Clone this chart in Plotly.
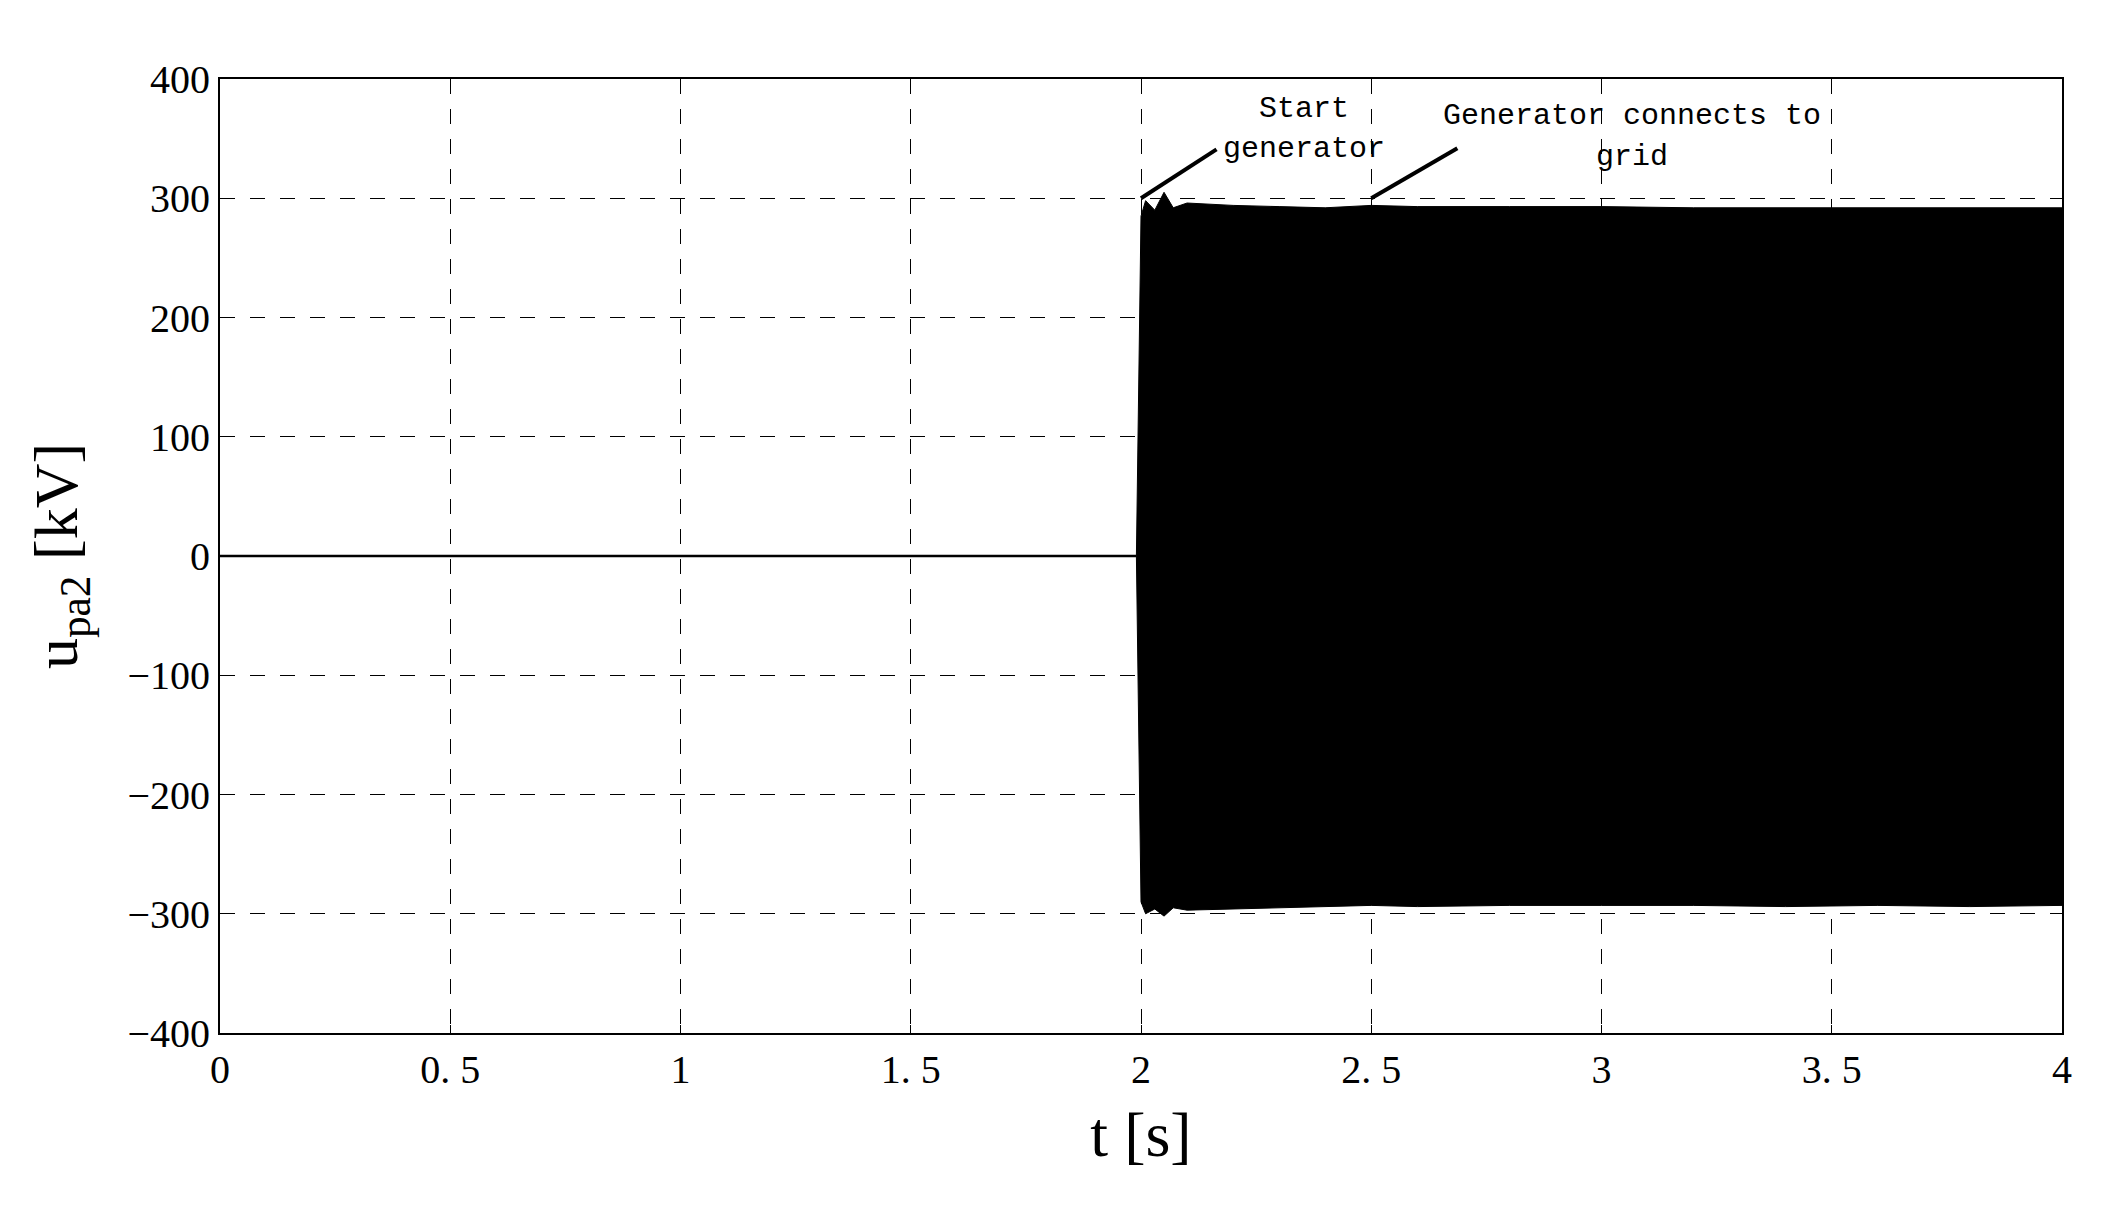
import plotly.graph_objects as go

# zero line before the generator starts
t_idle = [0, 1.99]
u_idle = [0, 0]

# envelope of the dense 50 Hz band (kV)
t_env = [1.99, 2.0, 2.01, 2.03, 2.05, 2.07, 2.1, 2.2, 2.3, 2.4, 2.5, 2.6, 2.8, 3.0, 3.2, 3.4, 3.6, 3.8, 4.0]
u_top = [0, 285, 298, 290, 305, 292, 296, 294, 293, 292, 294, 293, 293, 293, 292, 292, 292, 292, 292]
u_bot = [0, -290, -300, -296, -302, -295, -297, -296, -295, -294, -293, -294, -293, -293, -293, -294, -293, -294, -293]

x_ticks = [0, 0.5, 1, 1.5, 2, 2.5, 3, 3.5, 4]
x_labels = ["0", "0. 5", "1", "1. 5", "2", "2. 5", "3", "3. 5", "4"]
y_ticks = [-400, -300, -200, -100, 0, 100, 200, 300, 400]
y_labels = ["\u2212400", "\u2212300", "\u2212200", "\u2212100", "0", "100", "200", "300", "400"]

fig = go.Figure()
fig.add_trace(go.Scatter(x=t_idle, y=u_idle, mode='lines', line=dict(color='black', width=2.5)))
fig.add_trace(go.Scatter(x=t_env, y=u_bot, mode='lines', line=dict(color='black', width=1)))
fig.add_trace(go.Scatter(x=t_env, y=u_top, mode='lines', fill='tonexty',
                         fillcolor='black', line=dict(color='black', width=1)))

# pointer lines
fig.add_trace(go.Scatter(x=[2.0, 2.164], y=[300, 341], mode='lines', line=dict(color='black', width=4)))
fig.add_trace(go.Scatter(x=[2.5, 2.687], y=[300, 342], mode='lines', line=dict(color='black', width=4)))

afont = dict(family='Liberation Mono', size=30, color='black')
fig.add_annotation(x=2.354, y=375, text='Start', showarrow=False, font=afont)
fig.add_annotation(x=2.354, y=341, text='generator', showarrow=False, font=afont)
fig.add_annotation(x=3.067, y=369, text='Generator connects to', showarrow=False, font=afont)
fig.add_annotation(x=3.067, y=335, text='grid', showarrow=False, font=afont)

grid = dict(showgrid=True, gridcolor='black', griddash='longdash', gridwidth=1.2,
            showline=True, linecolor='black', linewidth=2, mirror=True,
            ticks='inside', ticklen=8, tickcolor='black', zeroline=False,
            tickfont=dict(family='Liberation Serif', size=40, color='black'))

fig.update_xaxes(range=[0, 4], tickvals=x_ticks, ticktext=x_labels,
                 title=dict(text='t [s]', standoff=20,
                            font=dict(family='Liberation Serif', size=64, color='black')),
                 **grid)
fig.update_yaxes(range=[-400, 400], tickvals=y_ticks, ticktext=y_labels,
                 title=dict(text='u<sub>pa2</sub> [kV]', standoff=30,
                            font=dict(family='Liberation Serif', size=62, color='black')),
                 **grid)

fig.update_layout(width=2113, height=1208, showlegend=False,
                  plot_bgcolor='white', paper_bgcolor='white',
                  margin=dict(l=212, r=59, t=71, b=183))

fig.write_html("out.html")
